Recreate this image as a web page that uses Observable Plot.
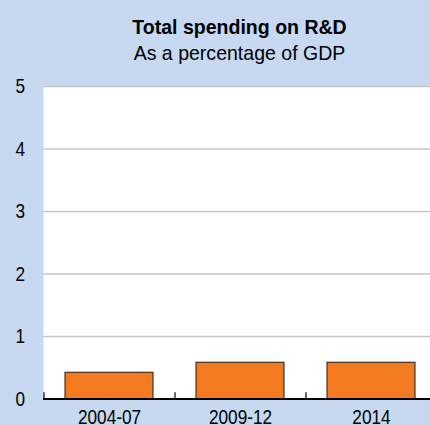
<!DOCTYPE html>
<html>
<head>
<meta charset="utf-8">
<script src="https://cdn.jsdelivr.net/npm/d3@7"></script>
<script src="https://cdn.jsdelivr.net/npm/@observablehq/plot@0.6"></script>
<style>
  html, body { margin: 0; padding: 0; }
  body { width: 430px; height: 425px; overflow: hidden; background: #c6d9f0; }
  #header { height: 70px; box-sizing: border-box; padding-top: 13.5px; padding-left: 43px; width: 436px;
            text-align: center; font-family: "Liberation Sans", Arial, sans-serif; font-size: 21px; line-height: 26.5px; color: #000; }
  #header div { transform: scaleX(0.93); transform-origin: 50% 50%; white-space: nowrap; }
  #header .t { font-weight: bold; }
  #chart { width: 430px; overflow: hidden; }
  #chart svg { max-width: none; display: block; }
</style>
</head>
<body>
<div id="header">
  <div class="t">Total spending on R&amp;D</div>
  <div class="s">As a percentage of GDP</div>
</div>
<div id="chart"></div>
<script>
const categories = ["2004-07", "2009-12", "2014"];
const spending = [0.42, 0.58, 0.58];
const yTicks = [0, 1, 2, 3, 4, 5];
const gridTicks = [1, 2, 3, 4, 5];

const data = categories.map((c, i) => ({category: c, value: spending[i]}));

const xOpts = {domain: categories, paddingInner: 0.33, paddingOuter: 0.165, label: null};

function build(dxBoundary) {
  return Plot.plot({
    width: 436,
    height: 355,
    marginTop: 16,
    marginBottom: 26.5,
    marginLeft: 43,
    marginRight: 0,
    style: {fontFamily: "'Liberation Sans', Arial, sans-serif", fontSize: "21px", background: "transparent", color: "#000"},
    x: xOpts,
    y: {domain: [0, 5], label: null},
    marks: [
      Plot.frame({fill: "white", stroke: null}),
      Plot.ruleY(gridTicks, {stroke: "#c6c6c6", strokeWidth: 1.5}),
      Plot.barY(data, {x: "category", y: "value", fill: "#f47a20", stroke: "#1a1a1a", strokeWidth: 1}),
      Plot.ruleX(categories, {x: d => d, dx: dxBoundary, y1: 0, y2: 0.1, stroke: "#000", strokeWidth: 1.2}),
      Plot.ruleY([0], {stroke: "#000", strokeWidth: 2}),
      Plot.axisY({ticks: yTicks, tickSize: 0, tickPadding: 18.5, fill: "#000", tickFormat: d => String(d)}),
      Plot.axisX({tickSize: 0, tickPadding: 10, fill: "#000"})
    ]
  });
}

const probe = build(0);
const sx = probe.scale("x");
const plot = build(-sx.step / 2);
document.getElementById("chart").append(plot);

// condense axis labels horizontally (narrow typeface in the original), keeping each anchor point fixed
plot.querySelectorAll("text").forEach(t => {
  const x = parseFloat(t.getAttribute("x")) || 0;
  const y = parseFloat(t.getAttribute("y")) || 0;
  const prev = t.getAttribute("transform") || "";
  t.setAttribute("transform", `${prev} translate(${x},${y}) scale(0.82,1) translate(${-x},${-y})`.trim());
});
</script>
</body>
</html>
